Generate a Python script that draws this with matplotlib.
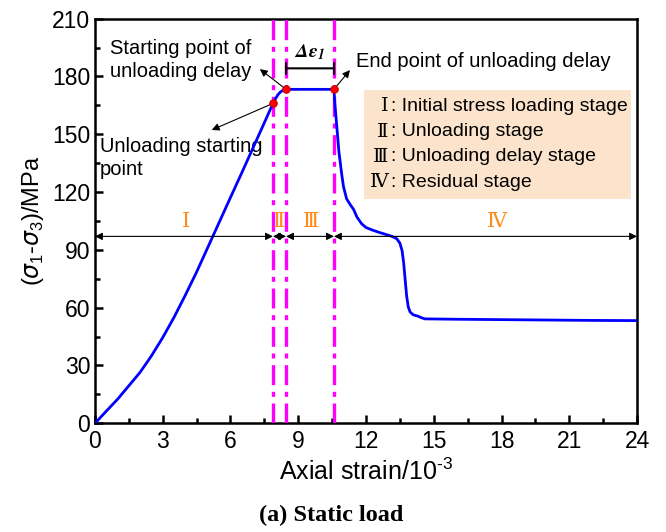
import numpy as np
import matplotlib
matplotlib.use("Agg")
import matplotlib.pyplot as plt
from matplotlib.patches import Rectangle

# data
strain = [0, 0.5, 1.0, 1.5, 2.0, 2.5, 3.0, 3.5, 4.0, 4.5, 5.0, 5.5, 6.0, 6.5, 7.0, 7.5,
          7.88, 8.0, 8.1, 8.2, 8.3, 8.46, 10.58, 10.62, 10.7, 10.8, 10.92, 11.0,
          11.14, 11.3, 11.45, 11.6, 11.81, 12.0, 12.3, 12.6, 12.91, 13.15, 13.36,
          13.5, 13.6, 13.67, 13.73, 13.8, 13.87, 13.95, 14.09, 14.3, 14.45, 14.61,
          16.0, 18.0, 20.0, 22.0, 24.0]
stress = [0, 6.3, 12.5, 19.5, 26.5, 35.0, 44.5, 55.0, 66.5, 78.5, 91.4, 104.3, 117.2,
          130.0, 143.0, 156.0, 166.0, 168.6, 170.5, 171.8, 172.7, 173.3, 173.3, 166.0,
          155.0, 141.0, 129.7, 123.0, 116.5, 113.5, 111.0, 107.0, 103.5, 101.6, 100.2,
          99.0, 97.9, 97.0, 95.8, 93.5, 89.5, 83.0, 75.0, 66.0, 60.5, 57.8, 56.3,
          55.6, 54.8, 54.2, 54.0, 53.8, 53.6, 53.4, 53.3]

boundaries = [7.88, 8.46, 10.58]          # magenta dash-dot lines
key_x = [7.88, 8.46, 10.58]                # red points
key_y = [166.0, 173.3, 173.3]
stage_edges = [0, 7.88, 8.46, 10.58, 24]
stage_names = ["Ⅰ", "Ⅱ", "Ⅲ", "Ⅳ"]
stage_label_x = [4.03, 8.17, 9.56, 17.8]
legend_lines = [("Ⅰ", ": Initial stress loading stage"),
                ("Ⅱ", ": Unloading stage"),
                ("Ⅲ", ": Unloading delay stage"),
                ("Ⅳ", ": Residual stage")]

SANS = "Liberation Sans"
ROMAN = ["DejaVu Serif", "Noto Sans CJK SC"]
ORANGE = "#FF8C1A"
FS = 14.5

plt.rcParams["font.family"] = SANS
plt.rcParams["axes.unicode_minus"] = False

fig = plt.figure(figsize=(6.66, 5.32), dpi=100)
ax = fig.add_axes([0.1426, 0.2043, 0.8139, 0.7607])

# curve
ax.plot(strain, stress, color="#0000FF", lw=2.0, zorder=4)

# boundaries
for xb in boundaries:
    ax.axvline(xb, color="#FF00FF", lw=2.4, ls=(0, (6, 2, 1.5, 2)), zorder=3)

ax.plot(key_x, key_y, "o", color="#FF0000", mec="#B00000", ms=5.5, mew=0.6, zorder=6)

# stage arrows and labels
for i in range(len(stage_names)):
    ax.annotate("", xy=(stage_edges[i + 1], 97), xytext=(stage_edges[i], 97),
                arrowprops=dict(arrowstyle="<|-|>", color="k", lw=0.8,
                                mutation_scale=11, shrinkA=0, shrinkB=0), zorder=5)
    ax.text(stage_label_x[i], 104.5, stage_names[i], color=ORANGE, fontsize=15,
            family=ROMAN, ha="center", va="center", zorder=5)

# legend box
ax.add_patch(Rectangle((11.9, 116.4), 11.85, 56.6, facecolor="#FCE4CC",
                       edgecolor="none", zorder=2))
for k, (num, txt) in enumerate(legend_lines):
    yy = 164.5 - k * 13.1
    ax.text(13.0, yy, num, family=ROMAN, fontsize=14, ha="right", va="center", zorder=5)
    ax.text(13.1, yy, txt, fontsize=14, ha="left", va="center", zorder=5)

# annotations
arrow_kw = dict(arrowstyle="-|>", color="k", lw=0.8, mutation_scale=11, shrinkA=0, shrinkB=0)
ax.annotate("", xy=(7.3, 183.8), xytext=(8.46, 173.3), arrowprops=arrow_kw, zorder=5)
ax.text(0.66, 188.6, "Starting point of\nunloading delay", fontsize=FS,
        ha="left", va="center", linespacing=1.25)
ax.annotate("", xy=(11.29, 183.3), xytext=(10.58, 173.3), arrowprops=arrow_kw, zorder=5)
ax.text(11.55, 187.6, "End point of unloading delay", fontsize=FS, ha="left", va="center")
ax.annotate("", xy=(5.17, 152.2), xytext=(7.88, 166.0), arrowprops=arrow_kw, zorder=5)
ax.text(0.22, 137.7, "Unloading starting\npoint", fontsize=FS, ha="left", va="center",
        linespacing=1.25)

# delta epsilon bracket
ax.annotate("", xy=(10.58, 184.2), xytext=(8.46, 184.2),
            arrowprops=dict(arrowstyle="|-|", color="k", lw=1.5, mutation_scale=4,
                            shrinkA=0, shrinkB=0))
ax.text(9.52, 192.5, r"$\mathbfit{\Delta\varepsilon_1}$", fontsize=14, ha="center",
        va="center", math_fontfamily="stix")

# axes styling
ax.set_xlim(0, 24)
ax.set_ylim(0, 210)
ax.set_xticks(np.arange(0, 25, 3))
ax.set_yticks(np.arange(0, 211, 30))
ax.set_xticks(np.arange(1.5, 24, 3), minor=True)
ax.set_yticks(np.arange(15, 210, 30), minor=True)
ax.tick_params(which="both", direction="in", width=1.8, labelsize=16.5,
               top=False, right=False)
ax.tick_params(which="major", length=6)
ax.tick_params(which="minor", length=3.5)
ax.tick_params(axis="x", pad=5)
for s in ax.spines.values():
    s.set_linewidth(1.8)

ax.set_xlabel("Axial strain/10$^{\\mathregular{\u20103}}$", fontsize=18, labelpad=4)
ax.set_ylabel("($\\sigma_{\\mathregular{1}}$-$\\sigma_{\\mathregular{3}}$)/MPa",
              fontsize=17, labelpad=4)

fig.text(0.497, 0.032, "(a) Static load", family="Liberation Serif", weight="bold",
         fontsize=17.5, ha="center", va="center")

fig.savefig("out.png", dpi=100)
